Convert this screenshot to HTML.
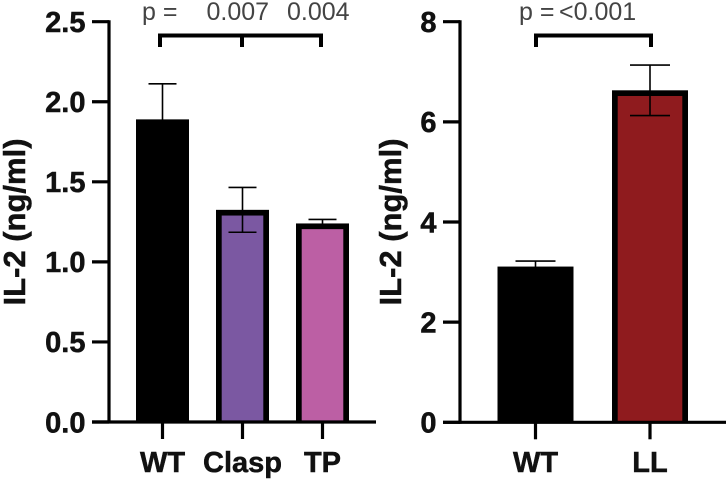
<!DOCTYPE html>
<html>
<head>
<meta charset="utf-8">
<title>IL-2 bar charts</title>
<style>
html,body{margin:0;padding:0;background:#fff;width:726px;height:479px;overflow:hidden}
svg{display:block}
text{font-family:"Liberation Sans",sans-serif}
text[font-weight="700"]{stroke:#111;stroke-width:0.5px}
</style>
</head>
<body>
<svg id="chart" width="726" height="479" viewBox="0 0 726 479" xmlns="http://www.w3.org/2000/svg"></svg>
<script>
// Left panel data
const leftCategories = ['WT', 'Clasp', 'TP'];
const leftValues = [1.89, 1.325, 1.24];
const leftErrors = [0.222, 0.14, 0.025];
const leftColors = ['#000000', '#7b58a2', '#bc5fa4'];
const leftTicks = [0, 0.5, 1, 1.5, 2, 2.5];
const leftTickLabels = ['0.0', '0.5', '1.0', '1.5', '2.0', '2.5'];
const leftMax = 2.5;

// Right panel data
const rightCategories = ['WT', 'LL'];
const rightValues = [3.11, 6.63];
const rightErrors = [0.11, 0.505];
const rightColors = ['#000000', '#8f1b1e'];
const rightTicks = [0, 2, 4, 6, 8];
const rightTickLabels = ['0', '2', '4', '6', '8'];
const rightMax = 8;

const svg = document.getElementById('chart');
const NS = 'http://www.w3.org/2000/svg';
function add(tag, attrs, parent) {
  const el = document.createElementNS(NS, tag);
  for (const k in attrs) el.setAttribute(k, attrs[k]);
  (parent || svg).appendChild(el);
  return el;
}
function drawPanel(cfg) {
  const y = v => cfg.y0 - (v / cfg.max) * (cfg.y0 - cfg.yTop);
  const x = i => cfg.firstX + i * cfg.stepX;

  // bars
  cfg.categories.forEach((c, i) => {
    const top = y(cfg.values[i]);
    const outer = add('rect', {x: x(i) - cfg.barW / 2, y: top, width: cfg.barW, height: cfg.y0 - top, fill: '#000'});
    
    
    if (cfg.colors[i] !== '#000000') {
      const inner = add('rect', {x: x(i) - cfg.barW / 2 + 5.7, y: top + 5.7, width: cfg.barW - 11.4, height: cfg.y0 - top - 5.7, fill: cfg.colors[i]});
      
      
    }
  });

  // error bars
  cfg.categories.forEach((c, i) => {
    const g = add('g', {stroke: '#000', 'stroke-width': 1.6, fill: 'none'});
    
    
    const hi = y(cfg.values[i] + cfg.errors[i]);
    const lo = y(cfg.values[i] - cfg.errors[i]);
    const cx = x(i) + cfg.errOffset;
    add('line', {x1: cx, x2: cx, y1: hi, y2: lo}, g);
    add('line', {x1: cx - cfg.capW, x2: cx + cfg.capW, y1: hi, y2: hi}, g);
    add('line', {x1: cx - cfg.capW, x2: cx + cfg.capW, y1: lo, y2: lo}, g);
  });

  // y axis
  const yAxis = add('line', {x1: cfg.axisX, x2: cfg.axisX, y1: y(cfg.max) - 1.5, y2: cfg.y0 + 1.5, stroke: '#000', 'stroke-width': 3.2});
  
  
  cfg.ticks.forEach((t, i) => {
    const tick = add('line', {x1: cfg.axisX - 17, x2: cfg.axisX, y1: y(t), y2: y(t), stroke: '#000', 'stroke-width': 3.2});
    
    
    const lab = add('text', {x: cfg.axisX - 23.5, y: y(t) + 10.3, 'text-anchor': 'end', 'font-size': 29, 'font-weight': 700, fill: '#111'});
    lab.textContent = cfg.tickLabels[i];
    
    
  });

  // x axis
  const xAxis = add('line', {x1: cfg.axisX - 17, x2: cfg.axisEnd, y1: cfg.y0, y2: cfg.y0, stroke: '#000', 'stroke-width': 3.2});
  
  
  cfg.categories.forEach((c, i) => {
    const tick = add('line', {x1: x(i), x2: x(i), y1: cfg.y0, y2: cfg.y0 + 17, stroke: '#000', 'stroke-width': 3.2});
    
    
    const lab = add('text', {x: x(i), y: 472, 'text-anchor': 'middle', 'font-size': 29, 'font-weight': 700, fill: '#111'});
    lab.textContent = c;
    
    
  });

  // y title
  const title = add('text', {transform: 'translate(' + cfg.titleX + ',222) rotate(-90)', 'text-anchor': 'middle', 'font-size': 31, 'font-weight': 700, fill: '#111'});
  title.textContent = 'IL-2 (ng/ml)';
  
  

  // significance bracket
  const pts = cfg.bracketX;
  const d = 'M' + pts[0] + ' 47V35.5H' + pts[pts.length - 1] + 'V47' + (pts.length > 2 ? 'M' + pts[1] + ' 35.5V47' : '');
  const br = add('path', {d: d, fill: 'none', stroke: '#000', 'stroke-width': 4});
  
  
  cfg.pLabels.forEach(p => {
    const t = add('text', {x: p[0], y: 20, 'font-size': 25, fill: '#444'});
    t.textContent = p[1];
    
    
  });
}

drawPanel({
  categories: leftCategories, values: leftValues, errors: leftErrors, colors: leftColors,
  ticks: leftTicks, tickLabels: leftTickLabels, max: leftMax,
  y0: 422, yTop: 21.7, axisX: 109, axisEnd: 376, firstX: 162.5, stepX: 80,
  barW: 53, capW: 14, errOffset: 0, titleX: 25,
  bracketX: [160, 242, 321],
  pLabels: [[142, 'p ='], [206.5, '0.007'], [287, '0.004']]
});
drawPanel({
  categories: rightCategories, values: rightValues, errors: rightErrors, colors: rightColors,
  ticks: rightTicks, tickLabels: rightTickLabels, max: rightMax,
  y0: 422.3, yTop: 21.7, axisX: 460, axisEnd: 726, firstX: 535.5, stepX: 114.5,
  barW: 76, capW: 20, errOffset: 0, titleX: 401,
  bracketX: [536, 651],
  pLabels: [[519, 'p ='], [559, '<0.001']]
});
</script>
</body>
</html>
